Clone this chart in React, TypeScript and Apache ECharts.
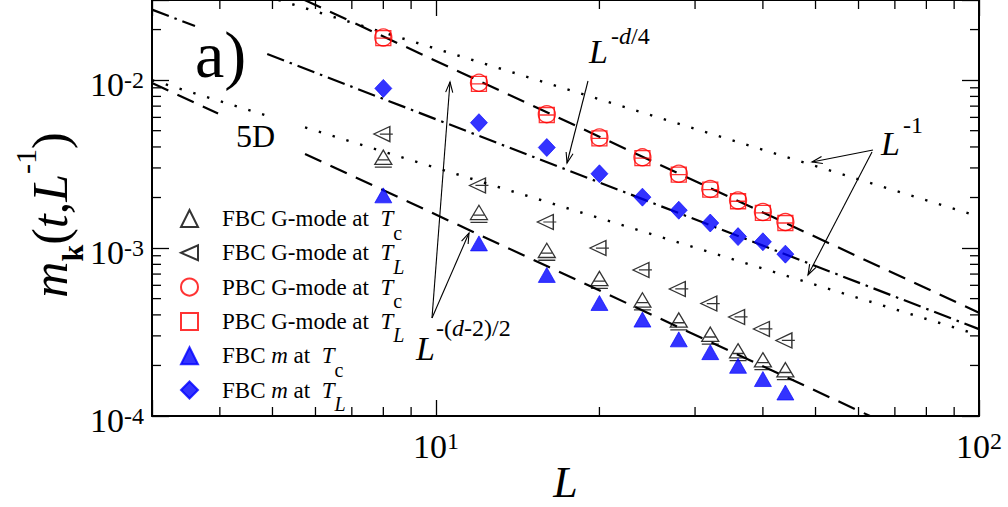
import React, { useEffect, useRef } from "react";
import * as echarts from "echarts";

// ---------- data ----------
const L_SIZES = [8, 12, 16, 20, 24, 28, 32, 36, 40, 44];
const FBC_G_TC = [0.00341, 0.0016, 0.000951, 0.000647, 0.000482, 0.000366, 0.000301, 0.00024, 0.000212, 0.000185];
const FBC_G_TL = [0.00477, 0.00236, 0.00143, 0.001, 0.000741, 0.000571, 0.000467, 0.000389, 0.00033, 0.000282];
const PBC_G_TC = [0.01795, 0.00964, 0.00627, 0.00456, 0.00347, 0.00277, 0.00225, 0.00192, 0.00164, 0.00143];
const PBC_G_TL = [0.0178, 0.0095, 0.0062, 0.0045, 0.00343, 0.00274, 0.00223, 0.0019, 0.00162, 0.00141];
const FBC_M_TC = [0.00206, 0.001066, 0.000692, 0.000471, 0.000375, 0.000286, 0.00024, 0.000199, 0.000166, 0.000138];
const FBC_M_TL = [0.00893, 0.00558, 0.00397, 0.00277, 0.00201, 0.00168, 0.00141, 0.00117, 0.00109, 0.00092];

// reference power-law lines: endpoints [L, m] of each drawn segment
const FIT_DASH_UPPER = [[[5.73, 0.03], [100, 0.000412]]];
const FIT_DASH_LOWER = [[[3, 0.00962], [3.97, 0.00632]], [[5.74, 0.003636], [63, 0.0001]]];
const FIT_DASHDOT = [[[3, 0.0263], [3.6, 0.021]], [[4.89, 0.0143], [100, 0.000329]]];
const FIT_DOT_UPPER = [[[5.13, 0.03], [100, 0.00154]]];
const FIT_DOT_LOWER = [[[3, 0.01], [4.89, 0.00613]], [[5.74, 0.00523], [100, 0.000303]]];

// axes
const X_MIN = 3;
const X_MAX = 100;
const Y_MIN = 0.0001;
const Y_MAX = 0.03;
const X_MINOR_TICKS = [4, 5, 6, 7, 8, 9, 20, 30, 40, 50, 60, 70, 80, 90];
const Y_MINOR_TICKS = [
  0.0002, 0.0003, 0.0004, 0.0005, 0.0006, 0.0007, 0.0008, 0.0009,
  0.002, 0.003, 0.004, 0.005, 0.006, 0.007, 0.008, 0.009, 0.02,
];

const SERIES_NAMES = [
  "FBC G-mode at Tc",
  "FBC G-mode at TL",
  "PBC G-mode at Tc",
  "PBC G-mode at TL",
  "FBC m at Tc",
  "FBC m at TL",
];
const LEGEND_LABELS: Record<string, string> = {
  "FBC G-mode at Tc": "{sp| }{n|FBC G-mode at\u00a0\u00a0}{i|T}{sc|c}",
  "FBC G-mode at TL": "{sp| }{n|FBC G-mode at\u00a0\u00a0}{i|T}{sl|L}",
  "PBC G-mode at Tc": "{sp| }{n|PBC G-mode at\u00a0\u00a0}{i|T}{sc|c}",
  "PBC G-mode at TL": "{sp| }{n|PBC G-mode at\u00a0\u00a0}{i|T}{sl|L}",
  "FBC m at Tc": "{sp| }{n|FBC }{i|m}{n| at\u00a0\u00a0}{i|T}{sc|c}",
  "FBC m at TL": "{sp| }{n|FBC }{i|m}{n| at\u00a0\u00a0}{i|T}{sl|L}",
};

const SERIF = '"Liberation Serif", "Times New Roman", serif';
const BLACK = "#000";
const RED = "#ff0000";
const BLUE = "#0000ff";

function powLabel(v: number) {
  const e = Math.log10(v);
  const r = Math.round(e);
  if (Math.abs(e - r) > 1e-6) return "";
  return `{b|10}{s|${r}}`;
}

const powRich = {
  b: { fontFamily: SERIF, fontSize: 34, lineHeight: 34, verticalAlign: "bottom", color: BLACK },
  s: { fontFamily: SERIF, fontSize: 24, lineHeight: 24, verticalAlign: "top", padding: [0, 0, 15, 0], color: BLACK },
};

function arrow(x0: number, y0: number, x1: number, y1: number) {
  const a = Math.atan2(y1 - y0, x1 - x0);
  const h = 11;
  const ang = 0.33;
  const p1 = [x1 - h * Math.cos(a - ang), y1 - h * Math.sin(a - ang)];
  const p2 = [x1 - h * Math.cos(a + ang), y1 - h * Math.sin(a + ang)];
  return [
    { type: "line", silent: true, shape: { x1: x0, y1: y0, x2: x1, y2: y1 }, style: { stroke: BLACK, lineWidth: 1.1 } },
    { type: "polyline", silent: true, shape: { points: [p1, [x1, y1], p2] }, style: { stroke: BLACK, fill: null, lineWidth: 1.1 } },
  ];
}

function txt(x: number, baseline: number, fs: number, text: string, italic = false, rich?: any) {
  return {
    type: "text",
    silent: true,
    x,
    y: baseline - 0.34 * fs,
    style: {
      text,
      fontFamily: SERIF,
      fontSize: fs,
      fontStyle: italic ? "italic" : "normal",
      fill: BLACK,
      align: "left",
      textAlign: "left",
      verticalAlign: "middle",
      textVerticalAlign: "middle",
      rich,
    },
  };
}

function fitSeries(segments: number[][][], type: any, width: number) {
  return segments.map((seg) => ({
    type: "line",
    data: seg,
    symbol: "none",
    silent: true,
    clip: true,
    z: 2,
    lineStyle: { color: BLACK, width, type },
  }));
}

function scatter(name: string, ys: number[], symbol: string, size: any, color: string, filled: boolean) {
  return {
    type: "scatter",
    name,
    data: L_SIZES.map((l, i) => [l, ys[i]]),
    symbol,
    symbolSize: size,
    z: 3,
    itemStyle: filled
      ? { color, borderColor: color, borderWidth: 0.8 }
      : { color: "rgba(0,0,0,0)", borderColor: color, borderWidth: 1.3 },
  };
}

export default function App() {
  const ref = useRef<HTMLDivElement>(null);
  useEffect(() => {
    if (!ref.current) return;
    const chart = echarts.init(ref.current, undefined, { renderer: "svg" });

    const axisLine = { show: true, onZero: false, lineStyle: { color: BLACK, width: 2 } };
    const majorTick = { show: true, inside: true, length: 16, lineStyle: { color: BLACK, width: 1.3 } };

    const minorTickStyle = { stroke: BLACK, lineWidth: 1.3 };

    const option: any = {
      animation: false,
      backgroundColor: "#fff",
      grid: { left: 152, top: 0, width: 827, height: 416, containLabel: false, outerBoundsMode: "none" },
      legend: {
        show: true,
        orient: "vertical",
        left: 180,
        top: 207,
        padding: 0,
        itemGap: -1.2,
        itemWidth: 17,
        itemHeight: 17,
        selectedMode: false,
        data: [
          { name: SERIES_NAMES[0], icon: "triangle" },
          { name: SERIES_NAMES[1], icon: "path://M16,0L16,14L0,7Z" },
          { name: SERIES_NAMES[2], icon: "circle" },
          { name: SERIES_NAMES[3], icon: "rect" },
          { name: SERIES_NAMES[4], icon: "triangle" },
          { name: SERIES_NAMES[5], icon: "diamond" },
        ],
        formatter: (name: string) => LEGEND_LABELS[name] || name,
        textStyle: {
          fontFamily: SERIF,
          fontSize: 23,
          color: BLACK,
          rich: {
            sp: { width: 19, fontSize: 23, lineHeight: 48 },
            n: { fontFamily: SERIF, fontSize: 23, lineHeight: 48, verticalAlign: "middle", color: BLACK },
            i: { fontFamily: SERIF, fontSize: 23, fontStyle: "italic", lineHeight: 48, verticalAlign: "middle", color: BLACK },
            sc: { fontFamily: SERIF, fontSize: 20, lineHeight: 20, verticalAlign: "bottom", color: BLACK },
            sl: { fontFamily: SERIF, fontSize: 20, fontStyle: "italic", lineHeight: 20, verticalAlign: "bottom", color: BLACK },
          },
        },
      },
      xAxis: [
        {
          type: "log",
          logBase: 10,
          min: X_MIN,
          max: X_MAX,
          position: "bottom",
          axisLine,
          axisTick: majorTick,
          splitLine: { show: false },
          axisLabel: { show: true, margin: 13, formatter: powLabel, rich: powRich },
          name: "L",
          nameLocation: "middle",
          nameGap: 46,
          nameMoveOverlap: false,
          nameTextStyle: { fontFamily: SERIF, fontSize: 44, fontStyle: "italic", color: BLACK, lineHeight: 40 },
        },
        {
          type: "log",
          logBase: 10,
          min: X_MIN,
          max: X_MAX,
          position: "top",
          axisLine,
          axisTick: majorTick,
          splitLine: { show: false },
          axisLabel: { show: false },
        },
      ],
      yAxis: [
        {
          type: "log",
          logBase: 10,
          min: Y_MIN,
          max: Y_MAX,
          position: "left",
          axisLine,
          axisTick: { ...majorTick, length: 17 },
          splitLine: { show: false },
          axisLabel: { show: true, margin: 8, padding: [9, 0, 0, 0], formatter: powLabel, rich: powRich },
          name: "{m|m}{k|k}{p|(}{i|t}{p|,}{i|L}{s|-1}{p|)}",
          nameLocation: "middle",
          nameRotate: 90,
          nameGap: 62,
          nameMoveOverlap: false,
          nameTextStyle: {
            fontFamily: SERIF,
            fontSize: 50,
            color: BLACK,
            padding: [0, 14, 0, 0],
            rich: {
              m: { fontFamily: SERIF, fontSize: 50, fontStyle: "italic", lineHeight: 80, verticalAlign: "middle", color: BLACK },
              i: { fontFamily: SERIF, fontSize: 50, fontStyle: "italic", lineHeight: 80, verticalAlign: "middle", color: BLACK },
              p: { fontFamily: SERIF, fontSize: 50, lineHeight: 80, verticalAlign: "middle", color: BLACK },
              k: { fontFamily: SERIF, fontSize: 30, fontWeight: "bold", lineHeight: 30, verticalAlign: "bottom", padding: [0, 0, 3, 0], color: BLACK },
              s: { fontFamily: SERIF, fontSize: 30, lineHeight: 30, verticalAlign: "top", color: BLACK },
            },
          },
        },
        {
          type: "log",
          logBase: 10,
          min: Y_MIN,
          max: Y_MAX,
          position: "right",
          axisLine,
          axisTick: { ...majorTick, length: 17 },
          splitLine: { show: false },
          axisLabel: { show: false },
        },
      ],
      series: [
        ...fitSeries(FIT_DASH_UPPER, [18, 10], 2.2),
        ...fitSeries(FIT_DASH_LOWER, [18, 10], 2.2),
        ...fitSeries(FIT_DASHDOT, [18, 6, 2.5, 6], 2.2),
        ...fitSeries(FIT_DOT_UPPER, [2.4, 12], 2.4),
        ...fitSeries(FIT_DOT_LOWER, [2.4, 12], 2.4),
        scatter(SERIES_NAMES[0], FBC_G_TC, "path://M8,0L16,13L0,13Z M3,9H13 M0,15.5H16", [17, 17], BLACK, false),
        scatter(SERIES_NAMES[1], FBC_G_TL, "path://M16,0L16,14L0,7Z M6,7H19", [19, 15], BLACK, false),
        scatter(SERIES_NAMES[2], PBC_G_TC, "circle", 17, RED, false),
        scatter(SERIES_NAMES[3], PBC_G_TL, "path://M0,0H14V14H0Z M0,7H14", [15, 15], RED, false),
        scatter(SERIES_NAMES[4], FBC_M_TC, "triangle", [17, 15], BLUE, true),
        scatter(SERIES_NAMES[5], FBC_M_TL, "diamond", [17, 18], BLUE, true),
        {
          type: "custom",
          silent: true,
          clip: false,
          z: 4,
          data: X_MINOR_TICKS.map((v) => [v, Y_MIN]),
          renderItem: (_p: any, api: any) => {
            const v = api.value(0);
            const b = api.coord([v, Y_MIN]);
            const t = api.coord([v, Y_MAX]);
            return {
              type: "group",
              children: [
                { type: "line", shape: { x1: b[0], y1: b[1], x2: b[0], y2: b[1] - 9 }, style: minorTickStyle },
                { type: "line", shape: { x1: t[0], y1: t[1], x2: t[0], y2: t[1] + 9 }, style: minorTickStyle },
              ],
            };
          },
        },
        {
          type: "custom",
          silent: true,
          clip: false,
          z: 4,
          data: Y_MINOR_TICKS.map((v) => [X_MIN, v]),
          renderItem: (_p: any, api: any) => {
            const v = api.value(1);
            const l = api.coord([X_MIN, v]);
            const r = api.coord([X_MAX, v]);
            return {
              type: "group",
              children: [
                { type: "line", shape: { x1: l[0], y1: l[1], x2: l[0] + 9, y2: l[1] }, style: minorTickStyle },
                { type: "line", shape: { x1: r[0], y1: r[1], x2: r[0] - 9, y2: r[1] }, style: minorTickStyle },
              ],
            };
          },
        },
      ],
      graphic: [
        txt(195, 77, 66, "a)"),
        txt(236, 147, 32, "5D"),
        txt(589, 63, 34, "L", true),
        txt(611, 44, 24, "{n|-}{i|d}{n|/4}", false, {
          n: { fontFamily: SERIF, fontSize: 24, fill: BLACK },
          i: { fontFamily: SERIF, fontSize: 24, fontStyle: "italic", fill: BLACK },
        }),
        txt(881, 155, 34, "L", true),
        txt(903, 133, 24, "-1"),
        txt(416, 360, 34, "L", true),
        txt(436, 336, 24, "{n|-(}{i|d}{n|-2)/2}", false, {
          n: { fontFamily: SERIF, fontSize: 24, fill: BLACK },
          i: { fontFamily: SERIF, fontSize: 24, fontStyle: "italic", fill: BLACK },
        }),
        ...arrow(588, 81, 567, 163),
        ...arrow(873, 150, 812, 162),
        ...arrow(872, 152, 808, 275),
        ...arrow(432, 318, 450, 82),
        ...arrow(432, 318, 469, 233),
      ],
    };

    chart.setOption(option);
    return () => chart.dispose();
  }, []);

  return (
    <div
      ref={ref}
      style={{ position: "absolute", left: 0, top: 0, width: 1008, height: 507, background: "#fff" }}
    />
  );
}
